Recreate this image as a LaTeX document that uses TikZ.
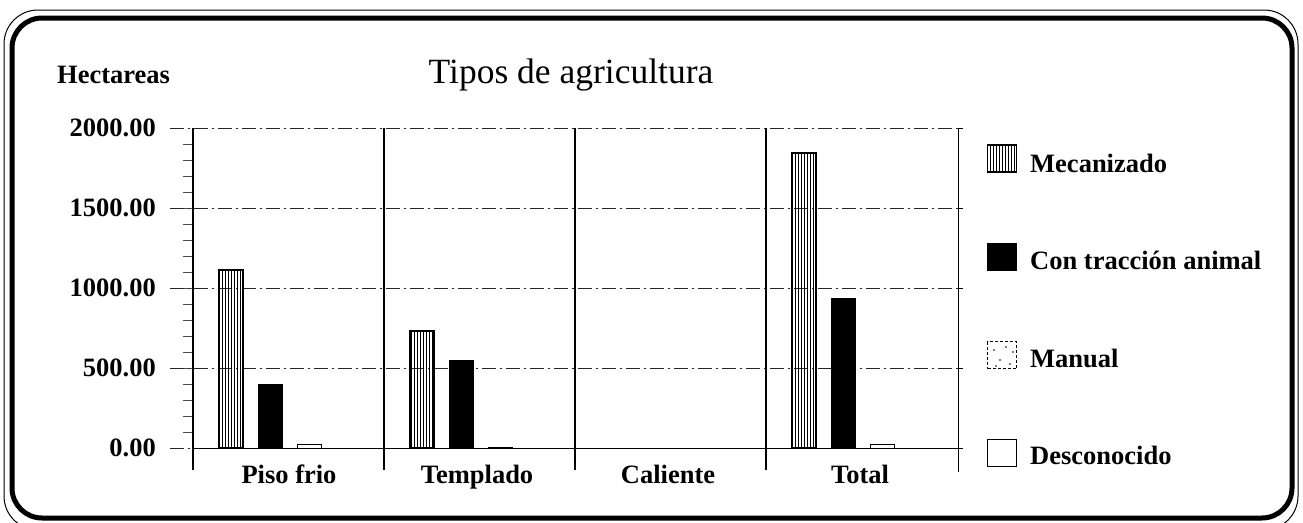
\documentclass[tikz,border=0pt]{standalone}
\usepackage{fontspec}
\setmainfont{Liberation Serif}
\usetikzlibrary{patterns}
\begin{document}
\begin{tikzpicture}[x=1pt,y=-1pt,
  lbl/.style={font=\bfseries\fontsize{26.5}{30}\selectfont, inner sep=0pt},
  ttl/.style={font=\fontsize{35.5}{40}\selectfont, inner sep=0pt},
  gridln/.style={line width=0.8pt, dash pattern=on 14pt off 4pt on 2pt off 4pt, black!85},
  divider/.style={line width=1.3pt},
  mecbar/.style={draw, line width=1.3pt, pattern=vertical lines},
  conbar/.style={draw, line width=1pt, fill=black},
  manbar/.style={draw, line width=1pt, fill=white},
  legbox/.style={draw, line width=0.9pt, minimum width=29pt, minimum height=27pt, inner sep=0pt}
]
\useasboundingbox (0,0) rectangle (1303,522);
\fill[white] (0,0) rectangle (1303,522);

% frame
\draw[line width=1pt, rounded corners=34pt] (4,10) rectangle (1298,530);
\draw[line width=5pt, rounded corners=30pt] (12,18) rectangle (1292,518);

% titles
\node[lbl, anchor=base west] (hect) at (57,83) {Hectareas};
\node[ttl, anchor=base] (title) at (571,83) {Tipos de agricultura};

% minor ticks on left axis
\foreach \k in {1,...,19}
  \draw[line width=0.6pt, black!70] (183,{448-16*\k}) -- (193,{448-16*\k});

% grid lines and y labels
\foreach \v/\t in {0/0.00,500/500.00,1000/1000.00,1500/1500.00,2000/2000.00}{
  \draw[gridln] (170,{448-0.16*\v}) -- (958,{448-0.16*\v});
  \draw[line width=0.6pt] (958,{448-0.16*\v}) -- (963,{448-0.16*\v});
  \node[lbl, anchor=east] (y\v) at (156,{448-0.16*\v}) {\t};
}

% dividers
\foreach \x in {193,384,575,766}
  \draw[divider] (\x,128) -- (\x,470);
\draw[line width=1pt] (958,128) -- (958,472);

% bars: group start / mecanizado / traccion / manual
\foreach \g/\m/\c/\n [count=\i] in {193/1112/400/25, 384/731/544/3, 766/1844/937/20}{
  \path[mecbar] ({\g+26},448) rectangle ({\g+50},{448-0.16*\m});
  \path[conbar] ({\g+65},448) rectangle ({\g+89},{448-0.16*\c});
  \path[manbar] ({\g+104},448) rectangle ({\g+128},{448-0.16*\n});
}
\draw[line width=1pt] (193,448) -- (958,448);

% category labels
\node[lbl, anchor=base] (c1) at (289,483) {Piso frio};
\node[lbl, anchor=base] (c2) at (477,483) {Templado};
\node[lbl, anchor=base] (c3) at (668,483) {Caliente};
\node[lbl, anchor=base] (c4) at (860,483) {Total};

% legend
\node[legbox, pattern=vertical lines, line width=1.2pt] (k1) at (1002,158.5) {};
\node[legbox, fill=black] (k2) at (1002,257) {};
\node[legbox, dash pattern=on 3pt off 2pt] (k3) at (1002,355) {};
\foreach \p in {(994,350),(1000,360),(1006,347),(1010,364),(996,366),(1013,352)}
  \fill \p circle (0.9pt);
\node[legbox, line width=0.7pt] (k4) at (1002,452.5) {};

\node[lbl, anchor=base west] (l1) at (1030,172) {Mecanizado};
\node[lbl, anchor=base west] (l2) at (1030,269) {Con tracción animal};
\node[lbl, anchor=base west] (l3) at (1030,367) {Manual};
\node[lbl, anchor=base west] (l4) at (1030,464) {Desconocido};
\end{tikzpicture}
\end{document}
